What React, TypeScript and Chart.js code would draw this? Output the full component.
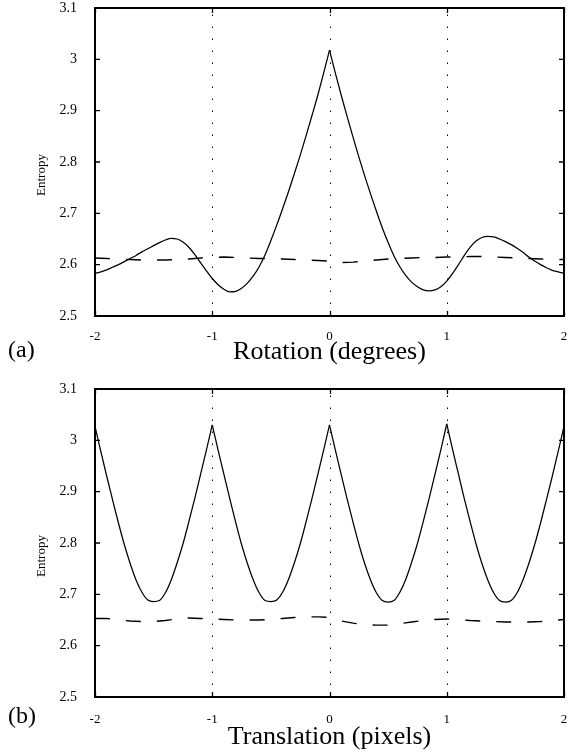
import { useEffect, useRef } from "react";
import { Chart, registerables } from "chart.js";

Chart.register(...registerables);

const FONT = '"Liberation Serif", "Times New Roman", serif';

const xFine = [
  -2, -1.95, -1.9, -1.85, -1.8, -1.75, -1.7, -1.65, -1.6, -1.55,
  -1.5, -1.45, -1.4, -1.35, -1.3, -1.25, -1.2, -1.15, -1.1, -1.05,
  -1, -0.95, -0.9, -0.85, -0.8, -0.75, -0.7, -0.65, -0.6, -0.55,
  -0.5, -0.45, -0.4, -0.35, -0.3, -0.25, -0.2, -0.15, -0.1, -0.05,
  0,
  0.05, 0.1, 0.15, 0.2, 0.25, 0.3, 0.35, 0.4, 0.45, 0.5,
  0.55, 0.6, 0.65, 0.7, 0.75, 0.8, 0.85, 0.9, 0.95, 1,
  1.05, 1.1, 1.15, 1.2, 1.25, 1.3, 1.35, 1.4, 1.45, 1.5,
  1.55, 1.6, 1.65, 1.7, 1.75, 1.8, 1.85, 1.9, 1.95, 2,
];

const xCoarse = [
  -2, -1.9, -1.8, -1.7, -1.6, -1.5, -1.4, -1.3, -1.2, -1.1,
  -1, -0.9, -0.8, -0.7, -0.6, -0.5, -0.4, -0.3, -0.2, -0.1,
  0,
  0.1, 0.2, 0.3, 0.4, 0.5, 0.6, 0.7, 0.8, 0.9, 1,
  1.1, 1.2, 1.3, 1.4, 1.5, 1.6, 1.7, 1.8, 1.9, 2,
];

const rotationSolid = [
  2.583, 2.586, 2.59, 2.595, 2.6, 2.606, 2.612, 2.618, 2.625, 2.631,
  2.637, 2.643, 2.648, 2.651, 2.65, 2.644, 2.634, 2.62, 2.604, 2.588,
  2.573, 2.561, 2.552, 2.547, 2.548, 2.554, 2.564, 2.578, 2.596, 2.619,
  2.647, 2.677, 2.709, 2.742, 2.777, 2.813, 2.851, 2.89, 2.93, 2.973,
  3.018,
  2.973, 2.93, 2.889, 2.849, 2.81, 2.773, 2.738, 2.704, 2.672, 2.643,
  2.617, 2.596, 2.579, 2.566, 2.557, 2.551, 2.549, 2.551, 2.557, 2.568,
  2.583, 2.6, 2.618, 2.634, 2.646, 2.653, 2.655, 2.654, 2.65, 2.645,
  2.639, 2.632, 2.624, 2.615, 2.607, 2.6, 2.594, 2.589, 2.586, 2.583,
];

const rotationDashed = [
  2.613, 2.612, 2.611, 2.61, 2.609, 2.609, 2.609, 2.61, 2.611, 2.613,
  2.614, 2.615, 2.614, 2.613, 2.612, 2.612, 2.611, 2.61, 2.609, 2.608,
  2.607,
  2.604, 2.605, 2.607, 2.609, 2.611, 2.612, 2.613, 2.614, 2.614, 2.615,
  2.615, 2.616, 2.616, 2.615, 2.614, 2.613, 2.612, 2.611, 2.61, 2.61,
];

const translationSolid = [
  3.027, 2.978, 2.93, 2.884, 2.839, 2.797, 2.76, 2.728, 2.704, 2.689,
  2.686, 2.688, 2.703, 2.728, 2.761, 2.798, 2.841, 2.886, 2.933, 2.981,
  3.03, 2.981, 2.933, 2.886, 2.84, 2.797, 2.76, 2.728, 2.703, 2.688,
  2.686, 2.689, 2.704, 2.729, 2.761, 2.798, 2.841, 2.886, 2.933, 2.981,
  3.03,
  2.981, 2.933, 2.886, 2.841, 2.798, 2.76, 2.728, 2.703, 2.688, 2.685,
  2.688, 2.704, 2.729, 2.762, 2.799, 2.842, 2.887, 2.934, 2.982, 3.032,
  2.982, 2.934, 2.886, 2.841, 2.798, 2.76, 2.728, 2.703, 2.688, 2.685,
  2.688, 2.703, 2.728, 2.76, 2.797, 2.839, 2.884, 2.93, 2.978, 3.027,
];

const translationDashed = [
  2.653, 2.653, 2.65, 2.648, 2.647, 2.647, 2.649, 2.652, 2.654, 2.653,
  2.652, 2.651, 2.65, 2.65, 2.65, 2.651, 2.653, 2.655, 2.656, 2.656,
  2.655,
  2.648, 2.644, 2.641, 2.64, 2.64, 2.643, 2.646, 2.649, 2.651, 2.652,
  2.651, 2.649, 2.648, 2.647, 2.646, 2.646, 2.646, 2.647, 2.649, 2.651,
];

// x positions of the sharp peaks (cusps) of the solid curves
const rotationCusps = [0];
const translationCusps = [-1, 0, 1];

const xTicks = [-2, -1, 0, 1, 2];
const yTickValues = [2.5, 2.6, 2.7, 2.8, 2.9, 3, 3.1];

const pts = (xs: number[], ys: number[]) => xs.map((x, i) => ({ x, y: ys[i] }));

function splitAtCusps(xs: number[], ys: number[], cusps: number[]) {
  const bounds = [-Infinity, ...cusps, Infinity];
  const all = pts(xs, ys);
  const out: { x: number; y: number }[][] = [];
  for (let i = 0; i < bounds.length - 1; i++) {
    const lo = bounds[i];
    const hi = bounds[i + 1];
    out.push(all.filter((p) => p.x >= lo - 1e-9 && p.x <= hi + 1e-9));
  }
  return out;
}

function makeDecor(panel: string, panelShift: number) {
  return {
    id: "decor" + panel.replace(/\W/g, ""),
    beforeDatasetsDraw(chart: any) {
      const { ctx, chartArea: a, scales } = chart;
      const xs = scales.x;
      const ys = scales.y;
      ctx.save();
      ctx.strokeStyle = "#000";
      ctx.lineWidth = 1;
      ctx.setLineDash([1.5, 10.5]);
      xTicks.forEach((v) => {
        if (v > xs.min && v < xs.max) {
          const px = Math.round(xs.getPixelForValue(v)) + 0.5;
          ctx.beginPath();
          ctx.moveTo(px, a.bottom);
          ctx.lineTo(px, a.top);
          ctx.stroke();
        }
      });
      ctx.setLineDash([]);
      ctx.lineWidth = 1.3;
      yTickValues.forEach((v) => {
        const py = ys.getPixelForValue(v);
        ctx.beginPath();
        ctx.moveTo(a.left, py);
        ctx.lineTo(a.left + 5, py);
        ctx.moveTo(a.right, py);
        ctx.lineTo(a.right - 5, py);
        ctx.stroke();
      });
      xTicks.forEach((v) => {
        const px = Math.round(xs.getPixelForValue(v)) + 0.5;
        ctx.beginPath();
        ctx.moveTo(px, a.bottom);
        ctx.lineTo(px, a.bottom - 5);
        ctx.moveTo(px, a.top);
        ctx.lineTo(px, a.top + 5);
        ctx.stroke();
      });
      ctx.restore();
    },
    afterDatasetsDraw(chart: any) {
      const { ctx, chartArea: a } = chart;
      ctx.save();
      ctx.strokeStyle = "#000";
      ctx.lineWidth = 2;
      ctx.strokeRect(a.left, a.top, a.right - a.left, a.bottom - a.top);
      ctx.fillStyle = "#000";
      ctx.font = `24px ${FONT}`;
      ctx.textAlign = "left";
      ctx.textBaseline = "middle";
      ctx.fillText(panel, 8, a.bottom + panelShift);
      ctx.font = `13px ${FONT}`;
      ctx.translate(42, (a.top + a.bottom) / 2 + 13);
      ctx.rotate(-Math.PI / 2);
      ctx.textAlign = "center";
      ctx.fillText("Entropy", 0, 0);
      ctx.restore();
    },
  };
}

function buildConfig(
  solid: number[],
  cusps: number[],
  dashed: number[],
  xTitle: string,
  topPad: number,
  canvasH: number,
  plotBottom: number,
  tickPad: number,
  titleBottomPad: number,
  panel: string,
  panelShift: number
): any {
  const solidSets = splitAtCusps(xFine, solid, cusps).map((seg) => ({
    data: seg,
    borderColor: "#000",
    borderWidth: 1.25,
    pointRadius: 0,
    cubicInterpolationMode: "monotone",
    fill: false,
  }));
  return {
    type: "line",
    data: {
      datasets: [
        ...solidSets,
        {
          data: pts(xCoarse, dashed),
          borderColor: "#000",
          borderWidth: 1.4,
          borderDash: [15, 16],
          pointRadius: 0,
          tension: 0,
          fill: false,
        },
      ],
    },
    options: {
      animation: false,
      responsive: false,
      maintainAspectRatio: false,
      layout: { padding: { left: 0, right: 12, top: topPad, bottom: 0 } },
      plugins: { legend: { display: false }, tooltip: { enabled: false } },
      scales: {
        x: {
          type: "linear",
          min: -2,
          max: 2,
          afterBuildTicks: (s: any) => {
            s.ticks = xTicks.map((v) => ({ value: v }));
          },
          afterFit: (s: any) => {
            s.height = canvasH - plotBottom;
            s.paddingLeft = 0;
            s.paddingRight = 0;
          },
          grid: { display: false, drawTicks: false },
          border: { display: false },
          ticks: {
            color: "#000",
            font: { family: FONT, size: 13 },
            padding: tickPad,
            maxRotation: 0,
            callback: (v: any) => String(v),
          },
          title: {
            display: true,
            text: xTitle,
            color: "#000",
            font: { family: FONT, size: 26 },
            padding: { top: 0, bottom: titleBottomPad },
          },
        },
        y: {
          type: "linear",
          min: 2.5,
          max: 3.1,
          afterBuildTicks: (s: any) => {
            s.ticks = yTickValues.map((v) => ({ value: v }));
          },
          afterFit: (s: any) => {
            s.width = 95;
            s.paddingTop = 0;
            s.paddingBottom = 0;
          },
          grid: { display: false, drawTicks: false },
          border: { display: false },
          ticks: {
            color: "#000",
            font: { family: FONT, size: 14 },
            padding: 18,
            callback: (v: any) => String(Number(Number(v).toFixed(1))),
          },
        },
      },
    },
    plugins: [makeDecor(panel, panelShift)],
  };
}

export default function App() {
  const refA = useRef<HTMLCanvasElement | null>(null);
  const refB = useRef<HTMLCanvasElement | null>(null);

  useEffect(() => {
    const a = new Chart(
      refA.current as HTMLCanvasElement,
      buildConfig(rotationSolid, rotationCusps, rotationDashed, "Rotation (degrees)", 8, 376, 316, 13, 8, "(a)", 35)
    );
    const b = new Chart(
      refB.current as HTMLCanvasElement,
      buildConfig(translationSolid, translationCusps, translationDashed, "Translation (pixels)", 13, 377, 321, 15, 0, "(b)", 20)
    );
    return () => {
      a.destroy();
      b.destroy();
    };
  }, []);

  return (
    <div style={{ position: "absolute", left: 0, top: 0, width: 576, height: 753, background: "#fff" }}>
      <canvas ref={refA} width={576} height={376} style={{ position: "absolute", left: 0, top: 0, display: "block" }} />
      <canvas ref={refB} width={576} height={377} style={{ position: "absolute", left: 0, top: 376, display: "block" }} />
    </div>
  );
}
